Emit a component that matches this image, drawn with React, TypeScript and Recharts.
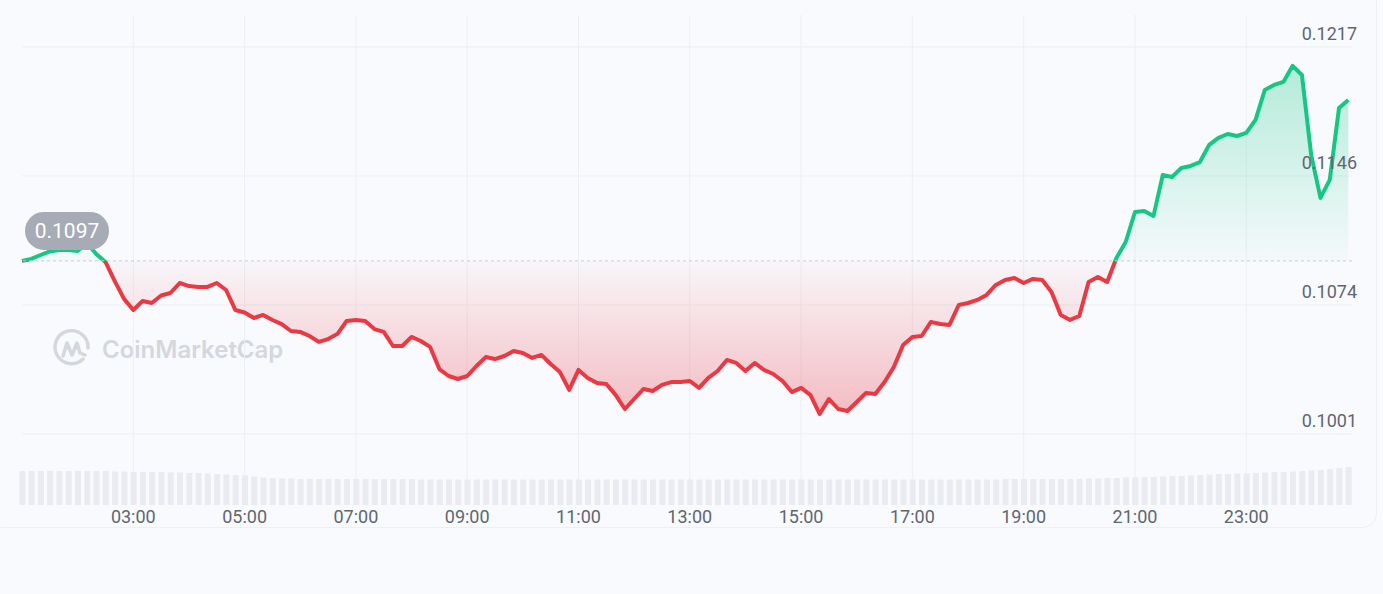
import {
  ComposedChart,
  Area,
  Bar,
  XAxis,
  YAxis,
  CartesianGrid,
  ReferenceLine,
} from "recharts";

// 24h price, one point every 10 minutes starting 01:00
const STEP_MIN = 10;
const OPEN_PRICE = 0.10976;
const OPEN_LABEL = "0.1097";

const PRICES = [
  0.10976, 0.10987, 0.11009, 0.11029, 0.11037, 0.11037, 0.11032, 0.11076, 0.11015, 0.1097,
  0.10863, 0.10763, 0.10701, 0.10751, 0.1074, 0.10782, 0.10796, 0.10852, 0.10835, 0.1083,
  0.1083, 0.10852, 0.10813, 0.10701, 0.10687, 0.10656, 0.10673, 0.10645, 0.10622, 0.10583,
  0.10578, 0.10555, 0.10522, 0.10538, 0.10566, 0.10639, 0.10645, 0.10639, 0.10594, 0.10578,
  0.10499, 0.10499, 0.1055, 0.10527, 0.10494, 0.1037, 0.10331, 0.10314, 0.10331, 0.10387,
  0.10437, 0.10426, 0.10443, 0.10471, 0.1046, 0.10432, 0.10449, 0.10398, 0.10353, 0.10253,
  0.10365, 0.1032, 0.10292, 0.10286, 0.10225, 0.10146, 0.10202, 0.10258, 0.10247, 0.10281,
  0.10297, 0.10297, 0.10303, 0.10264, 0.1032, 0.10359, 0.10421, 0.10404, 0.10359, 0.10404,
  0.10365, 0.10342, 0.10303, 0.10241, 0.10264, 0.10225, 0.10118, 0.10202, 0.10146, 0.10135,
  0.10185, 0.10236, 0.1023, 0.10297, 0.10381, 0.10505, 0.1055, 0.10555, 0.10634, 0.10622,
  0.10617, 0.10729, 0.1074, 0.10757, 0.10785, 0.10841, 0.10869, 0.1088, 0.10852, 0.10875,
  0.10869, 0.10802, 0.10673, 0.10645, 0.10667, 0.10858, 0.10886, 0.10858, 0.10992, 0.11082,
  0.1125, 0.11256, 0.11228, 0.11458, 0.11446, 0.11497, 0.11508, 0.1153, 0.11626, 0.11665,
  0.11687, 0.11676, 0.11693, 0.11766, 0.11934, 0.11962, 0.11979, 0.12069, 0.12018, 0.1157,
  0.11329, 0.1143, 0.11833, 0.11878,
];

// volume, relative units
const VOLUMES = [
  34, 34, 34, 34, 34, 34, 34, 34, 34, 34,
  33.5, 33.5, 33, 33, 33, 33, 32.5, 32.5, 32, 32,
  31.5, 31, 30.5, 30, 29.5, 28.5, 27.5, 27, 26.5, 26.5,
  26, 26, 26, 26, 26, 26, 26, 26, 26, 26,
  26, 26, 26, 25.5, 25.5, 25.5, 25.5, 25.5, 25.5, 25.5,
  25.5, 25.5, 25.5, 25.5, 25.5, 25.5, 25.5, 25.5, 25.5, 25.5,
  25.5, 25.5, 25.5, 25.5, 25.5, 25.5, 25.5, 25.5, 25.5, 25.5,
  25.5, 25.5, 25.5, 25.5, 25.5, 25.5, 25.5, 25.5, 25.5, 25.5,
  25.5, 25.5, 25.5, 25.5, 25.5, 25.5, 25.5, 25.5, 25.5, 25.5,
  25.5, 25.5, 25.5, 25.5, 25.5, 25.5, 25.5, 25.5, 25.5, 25.5,
  25.5, 25.5, 25.5, 25.5, 25.5, 25.5, 26, 26, 26, 26,
  26, 26, 26, 26, 26, 26.5, 26.5, 27, 27, 27.5,
  27.5, 28, 28, 28.5, 29, 29, 29.5, 30, 30.5, 31,
  31, 31.5, 31.5, 32, 32.5, 33, 33, 33.5, 34, 34.5,
  35, 36, 37, 38,
];

// minutes after 01:00
const TIME_DOMAIN: [number, number] = [0, 1434];
const TIME_TICKS = [120, 240, 360, 480, 600, 720, 840, 960, 1080, 1200, 1320];
const TIME_LABELS = ["03:00", "05:00", "07:00", "09:00", "11:00", "13:00", "15:00", "17:00", "19:00", "21:00", "23:00"];

const PRICE_DOMAIN: [number, number] = [0.09608, 0.12354];
const PRICE_TICKS = [0.10006, 0.10729, 0.11452, 0.12175];
const PRICE_LABELS = ["0.1001", "0.1074", "0.1146", "0.1217"];

const GREEN = "#16c784";
const RED = "#ea3943";
const TEXT = "#5f6670";
const FONT = "Roboto, 'Noto Sans', sans-serif";

const data = PRICES.map((price, i) => ({
  t: i * STEP_MIN,
  price,
  vol: VOLUMES[i],
}));

const hi = Math.max(...PRICES);
const lo = Math.min(...PRICES);
const split = (hi - OPEN_PRICE) / (hi - lo);

// grid only at the tick values (no plot border lines)
const gridRows = ({ offset }: any) =>
  PRICE_TICKS.map(
    (v) =>
      offset.top +
      ((PRICE_DOMAIN[1] - v) / (PRICE_DOMAIN[1] - PRICE_DOMAIN[0])) * offset.height
  );
const gridCols = ({ offset }: any) =>
  TIME_TICKS.map(
    (v) =>
      offset.left +
      ((v - TIME_DOMAIN[0]) / (TIME_DOMAIN[1] - TIME_DOMAIN[0])) * offset.width
  );

function PriceTick(props: any) {
  const { x, y, payload } = props;
  const idx = PRICE_TICKS.indexOf(payload.value);
  return (
    <text x={x} y={y - 7} textAnchor="end" fill={TEXT} fontSize={18} fontFamily={FONT}>
      {PRICE_LABELS[idx]}
    </text>
  );
}

function OpenBadge(props: any) {
  const { viewBox } = props;
  const bx = viewBox.x + 3;
  const by = viewBox.y - 49;
  return (
    <g>
      <rect x={bx} y={by} width={84} height={38} rx={19} fill="#a7abb5" />
      <text
        x={bx + 42}
        y={by + 19}
        dy="0.35em"
        textAnchor="middle"
        fill="#ffffff"
        fontSize={21}
        fontFamily={FONT}
      >
        {OPEN_LABEL}
      </text>
    </g>
  );
}

export default function App() {
  return (
    <div
      style={{
        position: "absolute",
        left: 0,
        top: 0,
        width: 1383,
        height: 594,
        background: "#f8fafd",
        overflow: "hidden",
      }}
    >
      <div
        style={{
          position: "absolute",
          left: -12,
          top: -12,
          width: 1389,
          height: 540,
          border: "1px solid #eceff3",
          borderRadius: 14,
          boxSizing: "border-box",
        }}
      />
      {/* watermark */}
      <div
        style={{
          position: "absolute",
          left: 52,
          top: 329,
          height: 40,
          display: "flex",
          alignItems: "center",
          gap: 10,
          color: "#d4d7dd",
        }}
      >
        <svg width={40} height={40} viewBox="0 0 40 40">
          <path
            d="M31 30 A16.5 16.5 0 1 1 36 19"
            fill="none"
            stroke="#d4d7dd"
            strokeWidth={3.5}
            strokeLinecap="round"
          />
          <path
            d="M11 27 L15 14 L20 26 L25 14 L28 24 L33 26"
            fill="none"
            stroke="#d4d7dd"
            strokeWidth={3.5}
            strokeLinejoin="round"
            strokeLinecap="round"
          />
        </svg>
        <span style={{ fontFamily: "Inter, sans-serif", fontWeight: 600, fontSize: 24 }}>
          CoinMarketCap
        </span>
      </div>
      <div style={{ position: "absolute", left: 0, top: 0 }}>
        <ComposedChart
          width={1383}
          height={594}
          data={data}
          margin={{ top: 15, right: 0, bottom: 59, left: 22 }}
        >
          <defs>
            <linearGradient id="strokeSplit" x1="0" y1="0" x2="0" y2="1">
              <stop offset={0} stopColor={GREEN} />
              <stop offset={split} stopColor={GREEN} />
              <stop offset={split} stopColor={RED} />
              <stop offset={1} stopColor={RED} />
            </linearGradient>
            <linearGradient id="fillSplit" x1="0" y1="0" x2="0" y2="1">
              <stop offset={0} stopColor={GREEN} stopOpacity={0.3} />
              <stop offset={split} stopColor={GREEN} stopOpacity={0.02} />
              <stop offset={split} stopColor={RED} stopOpacity={0.02} />
              <stop offset={1} stopColor={RED} stopOpacity={0.32} />
            </linearGradient>
          </defs>
          <CartesianGrid
            stroke="#eceff3"
            yAxisId="price"
            horizontalCoordinatesGenerator={gridRows}
            verticalCoordinatesGenerator={gridCols}
          />
          <XAxis
            dataKey="t"
            type="number"
            domain={TIME_DOMAIN}
            ticks={TIME_TICKS}
            tickFormatter={(v: number) => TIME_LABELS[TIME_TICKS.indexOf(v)]}
            axisLine={false}
            tickLine={false}
            tickSize={0}
            tickMargin={5}
            height={30}
            tick={{ fill: TEXT, fontSize: 18, fontFamily: FONT }}
          />
          <YAxis
            yAxisId="price"
            orientation="right"
            domain={PRICE_DOMAIN}
            ticks={PRICE_TICKS}
            axisLine={false}
            tickLine={false}
            tickSize={0}
            tickMargin={5}
            width={31}
            tick={<PriceTick />}
          />
          <YAxis yAxisId="vol" hide domain={[0, 490]} />
          <Bar
            yAxisId="vol"
            dataKey="vol"
            fill="#e9ebf0"
            barSize={6}
            isAnimationActive={false}
          />
          <ReferenceLine
            yAxisId="price"
            y={OPEN_PRICE}
            stroke="#c9cdd4"
            strokeDasharray="3 3"
            label={<OpenBadge />}
          />
          <Area
            yAxisId="price"
            type="linear"
            dataKey="price"
            baseValue={OPEN_PRICE}
            stroke="url(#strokeSplit)"
            strokeWidth={4}
            strokeLinejoin="round"
            fill="url(#fillSplit)"
            fillOpacity={1}
            dot={false}
            activeDot={false}
            isAnimationActive={false}
          />
        </ComposedChart>
      </div>
    </div>
  );
}
